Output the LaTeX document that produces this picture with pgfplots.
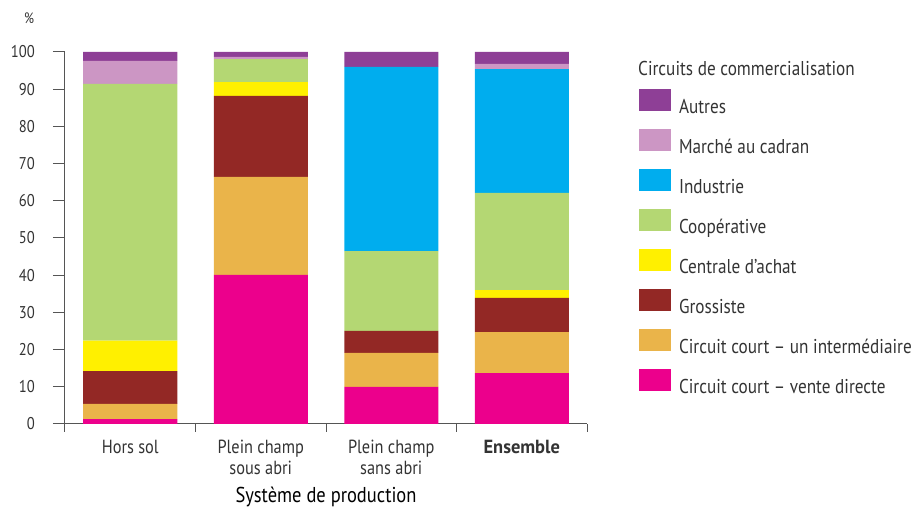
\documentclass[border=0pt]{standalone}
\usepackage{pgfplots}
\pgfplotsset{compat=1.18}
\usepackage{fontspec}
\setmainfont[FakeStretch=0.86, BoldFeatures={FakeStretch=0.97}]{PT Sans}
\definecolor{cAutres}{HTML}{8E3F96}
\definecolor{cMarche}{HTML}{CC96C4}
\definecolor{cIndus}{HTML}{00ADEE}
\definecolor{cCoop}{HTML}{B4D773}
\definecolor{cCentrale}{HTML}{FFF000}
\definecolor{cGross}{HTML}{932825}
\definecolor{cInterm}{HTML}{EAB44A}
\definecolor{cVente}{HTML}{EC008C}
\definecolor{axisgray}{HTML}{555555}
\definecolor{txt}{HTML}{333333}
\begin{document}
\begin{tikzpicture}
\useasboundingbox (0pt,0pt) rectangle (913pt,508pt);
\begin{axis}[
  at={(65pt,84pt)}, anchor=south west,
  scale only axis, width=522pt, height=372pt,
  ybar stacked, bar width=94pt,
  xmin=-0.5, xmax=3.5, ymin=0, ymax=100,
  axis x line*=bottom, axis y line*=left,
  axis line style={-, draw=axisgray, line width=1pt},
  ytick={0,10,...,100},
  xtick={0,1,2,3},
  xticklabels={Hors sol, {Plein champ\\sous abri}, {Plein champ\\sans abri}, \textbf{Ensemble}},
  minor xtick={-0.5,0.5,1.5,2.5,3.5},
  major x tick style={draw=none},
  tick align=outside, major tick length=12pt, minor tick length=8pt,
  tick style={draw=axisgray, line width=1pt},
  /pgf/number format/assume math mode=true,
  yticklabel style={anchor=east, inner sep=0pt, xshift=-18pt, text=txt, font=\fontsize{17pt}{20pt}\selectfont},
  xticklabel style={anchor=north, align=center, inner sep=0pt, yshift=-4pt, text=txt, font=\fontsize{19pt}{21pt}\selectfont},
  xlabel={Système de production},
  every axis x label/.style={at={(rel axis cs:0.5,0)}, anchor=base, yshift=-79pt, text=black, font=\fontsize{21.5pt}{23pt}\selectfont},
  ylabel={\%},
  every axis y label/.style={at={(rel axis cs:0,1)}, anchor=center, xshift=-36pt, yshift=34pt, text=txt, font=\fontsize{15pt}{18pt}\selectfont},
  reverse legend,
  legend cell align=left,
  legend image code/.code={\fill[#1,draw=none] (0pt,-4pt) rectangle (32pt,18pt);},
  legend style={at={(rel axis cs:1,1)}, anchor=north west, xshift=52pt, yshift=-37pt,
    draw=none, fill=none, inner sep=0pt, outer sep=0pt, row sep=11pt,
    font=\fontsize{20pt}{24pt}\selectfont, text=txt,
    nodes={inner sep=0pt, text height=18pt, text depth=4pt},
    /tikz/every odd column/.append style={column sep=8pt}},
  every axis plot/.append style={draw=none},
]
\addplot[fill=cVente] coordinates {(0,1.3) (1,40.1) (2,10.0) (3,13.7)};
\addplot[fill=cInterm] coordinates {(0,4.1) (1,26.3) (2,9.1) (3,11.0)};
\addplot[fill=cGross] coordinates {(0,8.8) (1,21.8) (2,5.9) (3,9.2)};
\addplot[fill=cCentrale] coordinates {(0,8.2) (1,3.7) (2,0) (3,2.1)};
\addplot[fill=cCoop] coordinates {(0,69.0) (1,6.2) (2,21.5) (3,26.1)};
\addplot[fill=cIndus] coordinates {(0,0) (1,0) (2,49.5) (3,33.3)};
\addplot[fill=cMarche] coordinates {(0,6.2) (1,0.6) (2,0) (3,1.4)};
\addplot[fill=cAutres] coordinates {(0,2.4) (1,1.3) (2,4.0) (3,3.2)};
\legend{Circuit court -- vente directe, Circuit court -- un intermédiaire, Grossiste, Centrale d’achat, Coopérative, Industrie, Marché au cadran, Autres}
\end{axis}
\node[anchor=base west, inner sep=0pt, text=txt, font=\fontsize{20pt}{24pt}\selectfont] at (638pt,432pt) {Circuits de commercialisation};
\end{tikzpicture}
\end{document}
